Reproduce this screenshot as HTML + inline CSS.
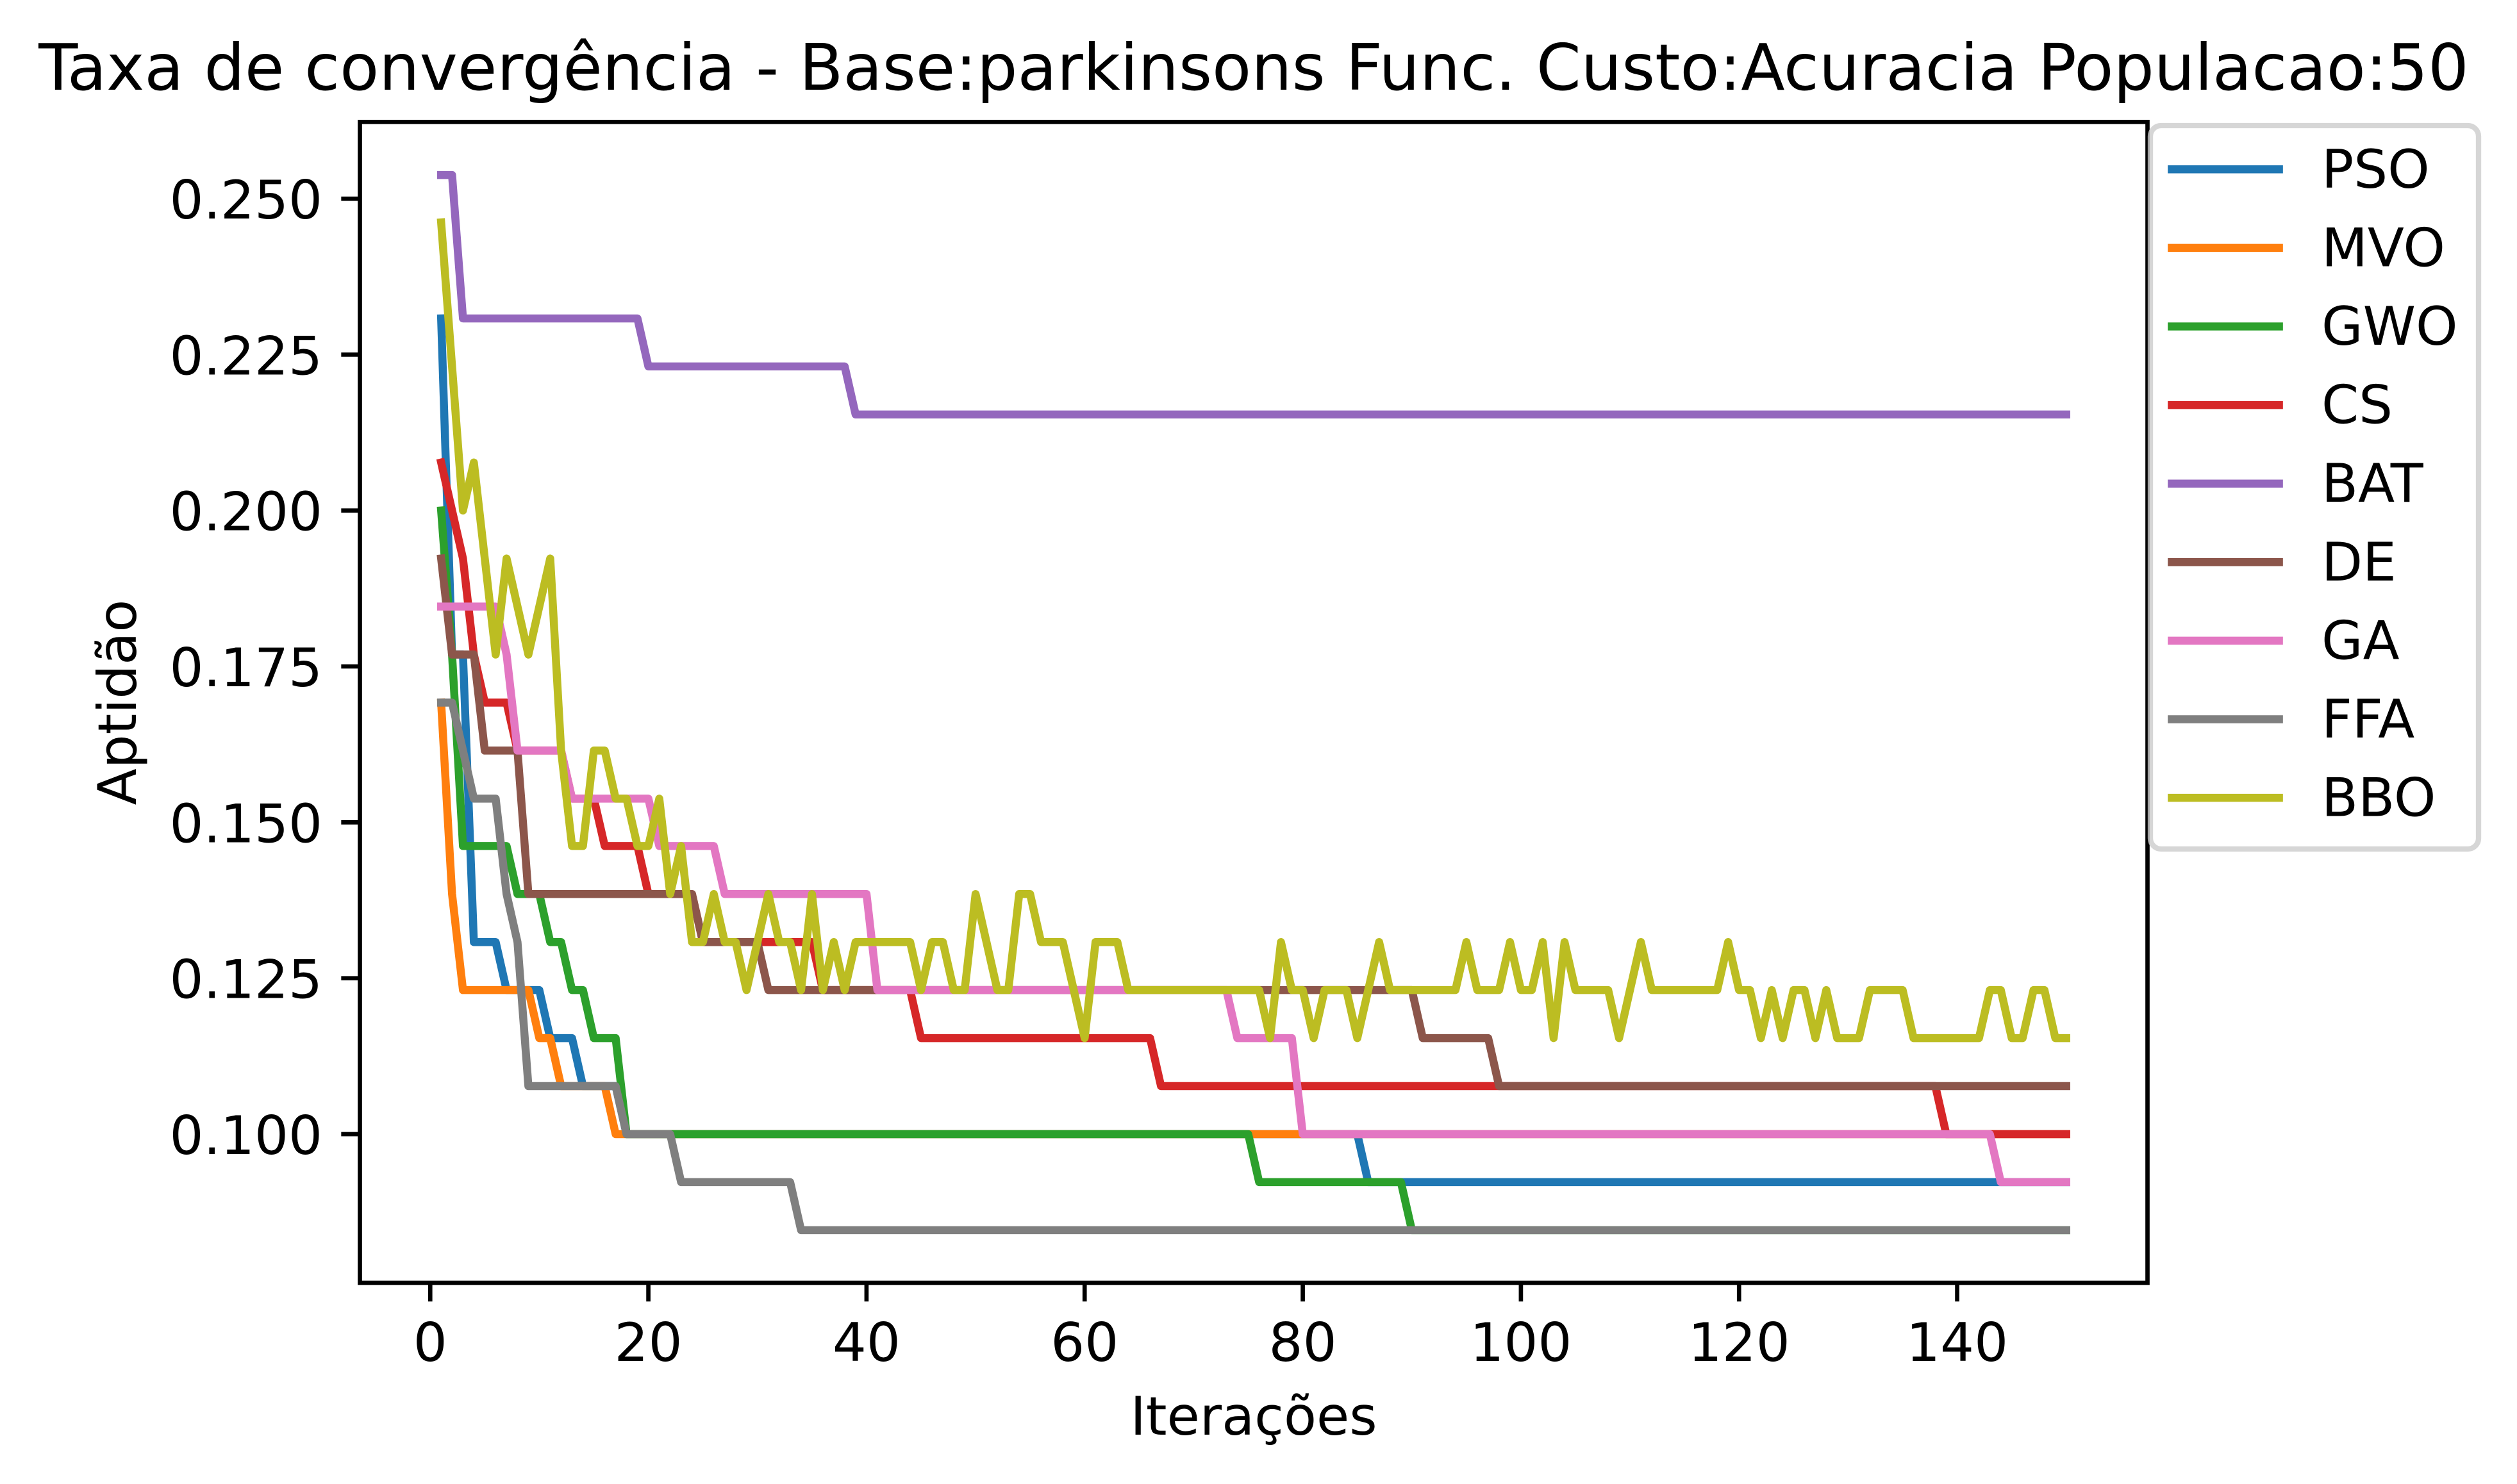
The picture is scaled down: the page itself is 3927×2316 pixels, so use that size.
<!DOCTYPE html>
<html lang="pt">
<head>
<meta charset="utf-8">
<title>Taxa de convergência</title>
<style>
html,body{margin:0;padding:0;background:#fff;}
svg{display:block;}
text{font-family:"DejaVu Sans","Liberation Sans",sans-serif;fill:#000;}
</style>
</head>
<body>
<svg id="chart" xmlns="http://www.w3.org/2000/svg" width="3927" height="2316" viewBox="0 0 3927 2316">
<rect x="0" y="0" width="3927" height="2316" fill="#fff"/>
<text x="1956" y="140" font-size="100" text-anchor="middle">Taxa de convergência - Base:parkinsons Func. Custo:Acuracia Populacao:50</text>
<g id="series-layer"></g>
<rect x="561.5" y="190.3" width="2789" height="1811.7" fill="none" stroke="#000" stroke-width="6.67"/>
<g id="x-axis"></g>
<g id="y-axis"></g>
<text x="1956" y="2239" font-size="83.33" text-anchor="middle">Iterações</text>
<text transform="translate(212 1096) rotate(-90)" font-size="83.33" text-anchor="middle">Aptidão</text>
<g id="legend">
<rect x="3355" y="196" width="512" height="1129" rx="16.7" ry="16.7" fill="#fff" fill-opacity="0.8" stroke="#ccc" stroke-opacity="0.8" stroke-width="8.33"/>
</g>
</svg>
<script>
const seriesNames = ["PSO","MVO","GWO","CS","BAT","DE","GA","FFA","BBO"];
const xTickValues = [0,20,40,60,80,100,120,140];
const xTickLabels = ["0","20","40","60","80","100","120","140"];
const yTickValues = [0.100,0.125,0.150,0.175,0.200,0.225,0.250];
const yTickLabels = ["0.100","0.125","0.150","0.175","0.200","0.225","0.250"];

const PSO = [
0.2308,0.1769,0.1769,0.1308,0.1308,0.1308,0.1231,0.1231,0.1231,0.1231,
0.1154,0.1154,0.1154,0.1077,0.1077,0.1077,0.1077,0.1000,0.1000,0.1000,
0.1000,0.1000,0.1000,0.1000,0.1000,0.1000,0.1000,0.1000,0.1000,0.1000,
0.1000,0.1000,0.1000,0.1000,0.1000,0.1000,0.1000,0.1000,0.1000,0.1000,
0.1000,0.1000,0.1000,0.1000,0.1000,0.1000,0.1000,0.1000,0.1000,0.1000,
0.1000,0.1000,0.1000,0.1000,0.1000,0.1000,0.1000,0.1000,0.1000,0.1000,
0.1000,0.1000,0.1000,0.1000,0.1000,0.1000,0.1000,0.1000,0.1000,0.1000,
0.1000,0.1000,0.1000,0.1000,0.1000,0.1000,0.1000,0.1000,0.1000,0.1000,
0.1000,0.1000,0.1000,0.1000,0.1000,0.0923,0.0923,0.0923,0.0923,0.0923,
0.0923,0.0923,0.0923,0.0923,0.0923,0.0923,0.0923,0.0923,0.0923,0.0923,
0.0923,0.0923,0.0923,0.0923,0.0923,0.0923,0.0923,0.0923,0.0923,0.0923,
0.0923,0.0923,0.0923,0.0923,0.0923,0.0923,0.0923,0.0923,0.0923,0.0923,
0.0923,0.0923,0.0923,0.0923,0.0923,0.0923,0.0923,0.0923,0.0923,0.0923,
0.0923,0.0923,0.0923,0.0923,0.0923,0.0923,0.0923,0.0923,0.0923,0.0923,
0.0923,0.0923,0.0923,0.0923,0.0923,0.0923,0.0923,0.0923,0.0923,0.0923
];
const MVO = [
0.1692,0.1385,0.1231,0.1231,0.1231,0.1231,0.1231,0.1231,0.1231,0.1154,
0.1154,0.1077,0.1077,0.1077,0.1077,0.1077,0.1000,0.1000,0.1000,0.1000,
0.1000,0.1000,0.1000,0.1000,0.1000,0.1000,0.1000,0.1000,0.1000,0.1000,
0.1000,0.1000,0.1000,0.1000,0.1000,0.1000,0.1000,0.1000,0.1000,0.1000,
0.1000,0.1000,0.1000,0.1000,0.1000,0.1000,0.1000,0.1000,0.1000,0.1000,
0.1000,0.1000,0.1000,0.1000,0.1000,0.1000,0.1000,0.1000,0.1000,0.1000,
0.1000,0.1000,0.1000,0.1000,0.1000,0.1000,0.1000,0.1000,0.1000,0.1000,
0.1000,0.1000,0.1000,0.1000,0.1000,0.1000,0.1000,0.1000,0.1000,0.1000,
0.1000,0.1000,0.1000,0.1000,0.1000,0.1000,0.1000,0.1000,0.1000,0.1000,
0.1000,0.1000,0.1000,0.1000,0.1000,0.1000,0.1000,0.1000,0.1000,0.1000,
0.1000,0.1000,0.1000,0.1000,0.1000,0.1000,0.1000,0.1000,0.1000,0.1000,
0.1000,0.1000,0.1000,0.1000,0.1000,0.1000,0.1000,0.1000,0.1000,0.1000,
0.1000,0.1000,0.1000,0.1000,0.1000,0.1000,0.1000,0.1000,0.1000,0.1000,
0.1000,0.1000,0.1000,0.1000,0.1000,0.1000,0.1000,0.1000,0.1000,0.1000,
0.1000,0.1000,0.1000,0.1000,0.1000,0.1000,0.1000,0.1000,0.1000,0.1000
];
const GWO = [
0.2000,0.1769,0.1462,0.1462,0.1462,0.1462,0.1462,0.1385,0.1385,0.1385,
0.1308,0.1308,0.1231,0.1231,0.1154,0.1154,0.1154,0.1000,0.1000,0.1000,
0.1000,0.1000,0.1000,0.1000,0.1000,0.1000,0.1000,0.1000,0.1000,0.1000,
0.1000,0.1000,0.1000,0.1000,0.1000,0.1000,0.1000,0.1000,0.1000,0.1000,
0.1000,0.1000,0.1000,0.1000,0.1000,0.1000,0.1000,0.1000,0.1000,0.1000,
0.1000,0.1000,0.1000,0.1000,0.1000,0.1000,0.1000,0.1000,0.1000,0.1000,
0.1000,0.1000,0.1000,0.1000,0.1000,0.1000,0.1000,0.1000,0.1000,0.1000,
0.1000,0.1000,0.1000,0.1000,0.1000,0.0923,0.0923,0.0923,0.0923,0.0923,
0.0923,0.0923,0.0923,0.0923,0.0923,0.0923,0.0923,0.0923,0.0923,0.0846,
0.0846,0.0846,0.0846,0.0846,0.0846,0.0846,0.0846,0.0846,0.0846,0.0846,
0.0846,0.0846,0.0846,0.0846,0.0846,0.0846,0.0846,0.0846,0.0846,0.0846,
0.0846,0.0846,0.0846,0.0846,0.0846,0.0846,0.0846,0.0846,0.0846,0.0846,
0.0846,0.0846,0.0846,0.0846,0.0846,0.0846,0.0846,0.0846,0.0846,0.0846,
0.0846,0.0846,0.0846,0.0846,0.0846,0.0846,0.0846,0.0846,0.0846,0.0846,
0.0846,0.0846,0.0846,0.0846,0.0846,0.0846,0.0846,0.0846,0.0846,0.0846
];
const CS = [
0.2077,0.2000,0.1923,0.1769,0.1692,0.1692,0.1692,0.1615,0.1615,0.1615,
0.1615,0.1615,0.1538,0.1538,0.1538,0.1462,0.1462,0.1462,0.1462,0.1385,
0.1385,0.1385,0.1385,0.1385,0.1308,0.1308,0.1308,0.1308,0.1308,0.1308,
0.1308,0.1308,0.1308,0.1308,0.1308,0.1231,0.1231,0.1231,0.1231,0.1231,
0.1231,0.1231,0.1231,0.1231,0.1154,0.1154,0.1154,0.1154,0.1154,0.1154,
0.1154,0.1154,0.1154,0.1154,0.1154,0.1154,0.1154,0.1154,0.1154,0.1154,
0.1154,0.1154,0.1154,0.1154,0.1154,0.1154,0.1077,0.1077,0.1077,0.1077,
0.1077,0.1077,0.1077,0.1077,0.1077,0.1077,0.1077,0.1077,0.1077,0.1077,
0.1077,0.1077,0.1077,0.1077,0.1077,0.1077,0.1077,0.1077,0.1077,0.1077,
0.1077,0.1077,0.1077,0.1077,0.1077,0.1077,0.1077,0.1077,0.1077,0.1077,
0.1077,0.1077,0.1077,0.1077,0.1077,0.1077,0.1077,0.1077,0.1077,0.1077,
0.1077,0.1077,0.1077,0.1077,0.1077,0.1077,0.1077,0.1077,0.1077,0.1077,
0.1077,0.1077,0.1077,0.1077,0.1077,0.1077,0.1077,0.1077,0.1077,0.1077,
0.1077,0.1077,0.1077,0.1077,0.1077,0.1077,0.1077,0.1077,0.1000,0.1000,
0.1000,0.1000,0.1000,0.1000,0.1000,0.1000,0.1000,0.1000,0.1000,0.1000
];
const BAT = [
0.2538,0.2538,0.2308,0.2308,0.2308,0.2308,0.2308,0.2308,0.2308,0.2308,
0.2308,0.2308,0.2308,0.2308,0.2308,0.2308,0.2308,0.2308,0.2308,0.2231,
0.2231,0.2231,0.2231,0.2231,0.2231,0.2231,0.2231,0.2231,0.2231,0.2231,
0.2231,0.2231,0.2231,0.2231,0.2231,0.2231,0.2231,0.2231,0.2154,0.2154,
0.2154,0.2154,0.2154,0.2154,0.2154,0.2154,0.2154,0.2154,0.2154,0.2154,
0.2154,0.2154,0.2154,0.2154,0.2154,0.2154,0.2154,0.2154,0.2154,0.2154,
0.2154,0.2154,0.2154,0.2154,0.2154,0.2154,0.2154,0.2154,0.2154,0.2154,
0.2154,0.2154,0.2154,0.2154,0.2154,0.2154,0.2154,0.2154,0.2154,0.2154,
0.2154,0.2154,0.2154,0.2154,0.2154,0.2154,0.2154,0.2154,0.2154,0.2154,
0.2154,0.2154,0.2154,0.2154,0.2154,0.2154,0.2154,0.2154,0.2154,0.2154,
0.2154,0.2154,0.2154,0.2154,0.2154,0.2154,0.2154,0.2154,0.2154,0.2154,
0.2154,0.2154,0.2154,0.2154,0.2154,0.2154,0.2154,0.2154,0.2154,0.2154,
0.2154,0.2154,0.2154,0.2154,0.2154,0.2154,0.2154,0.2154,0.2154,0.2154,
0.2154,0.2154,0.2154,0.2154,0.2154,0.2154,0.2154,0.2154,0.2154,0.2154,
0.2154,0.2154,0.2154,0.2154,0.2154,0.2154,0.2154,0.2154,0.2154,0.2154
];
const DE = [
0.1923,0.1769,0.1769,0.1769,0.1615,0.1615,0.1615,0.1615,0.1385,0.1385,
0.1385,0.1385,0.1385,0.1385,0.1385,0.1385,0.1385,0.1385,0.1385,0.1385,
0.1385,0.1385,0.1385,0.1385,0.1308,0.1308,0.1308,0.1308,0.1308,0.1308,
0.1231,0.1231,0.1231,0.1231,0.1231,0.1231,0.1231,0.1231,0.1231,0.1231,
0.1231,0.1231,0.1231,0.1231,0.1231,0.1231,0.1231,0.1231,0.1231,0.1231,
0.1231,0.1231,0.1231,0.1231,0.1231,0.1231,0.1231,0.1231,0.1231,0.1231,
0.1231,0.1231,0.1231,0.1231,0.1231,0.1231,0.1231,0.1231,0.1231,0.1231,
0.1231,0.1231,0.1231,0.1231,0.1231,0.1231,0.1231,0.1231,0.1231,0.1231,
0.1231,0.1231,0.1231,0.1231,0.1231,0.1231,0.1231,0.1231,0.1231,0.1231,
0.1154,0.1154,0.1154,0.1154,0.1154,0.1154,0.1154,0.1077,0.1077,0.1077,
0.1077,0.1077,0.1077,0.1077,0.1077,0.1077,0.1077,0.1077,0.1077,0.1077,
0.1077,0.1077,0.1077,0.1077,0.1077,0.1077,0.1077,0.1077,0.1077,0.1077,
0.1077,0.1077,0.1077,0.1077,0.1077,0.1077,0.1077,0.1077,0.1077,0.1077,
0.1077,0.1077,0.1077,0.1077,0.1077,0.1077,0.1077,0.1077,0.1077,0.1077,
0.1077,0.1077,0.1077,0.1077,0.1077,0.1077,0.1077,0.1077,0.1077,0.1077
];
const GA = [
0.1846,0.1846,0.1846,0.1846,0.1846,0.1846,0.1769,0.1615,0.1615,0.1615,
0.1615,0.1615,0.1538,0.1538,0.1538,0.1538,0.1538,0.1538,0.1538,0.1538,
0.1462,0.1462,0.1462,0.1462,0.1462,0.1462,0.1385,0.1385,0.1385,0.1385,
0.1385,0.1385,0.1385,0.1385,0.1385,0.1385,0.1385,0.1385,0.1385,0.1385,
0.1231,0.1231,0.1231,0.1231,0.1231,0.1231,0.1231,0.1231,0.1231,0.1231,
0.1231,0.1231,0.1231,0.1231,0.1231,0.1231,0.1231,0.1231,0.1231,0.1231,
0.1231,0.1231,0.1231,0.1231,0.1231,0.1231,0.1231,0.1231,0.1231,0.1231,
0.1231,0.1231,0.1231,0.1154,0.1154,0.1154,0.1154,0.1154,0.1154,0.1000,
0.1000,0.1000,0.1000,0.1000,0.1000,0.1000,0.1000,0.1000,0.1000,0.1000,
0.1000,0.1000,0.1000,0.1000,0.1000,0.1000,0.1000,0.1000,0.1000,0.1000,
0.1000,0.1000,0.1000,0.1000,0.1000,0.1000,0.1000,0.1000,0.1000,0.1000,
0.1000,0.1000,0.1000,0.1000,0.1000,0.1000,0.1000,0.1000,0.1000,0.1000,
0.1000,0.1000,0.1000,0.1000,0.1000,0.1000,0.1000,0.1000,0.1000,0.1000,
0.1000,0.1000,0.1000,0.1000,0.1000,0.1000,0.1000,0.1000,0.1000,0.1000,
0.1000,0.1000,0.1000,0.0923,0.0923,0.0923,0.0923,0.0923,0.0923,0.0923
];
const FFA = [
0.1692,0.1692,0.1615,0.1538,0.1538,0.1538,0.1385,0.1308,0.1077,0.1077,
0.1077,0.1077,0.1077,0.1077,0.1077,0.1077,0.1077,0.1000,0.1000,0.1000,
0.1000,0.1000,0.0923,0.0923,0.0923,0.0923,0.0923,0.0923,0.0923,0.0923,
0.0923,0.0923,0.0923,0.0846,0.0846,0.0846,0.0846,0.0846,0.0846,0.0846,
0.0846,0.0846,0.0846,0.0846,0.0846,0.0846,0.0846,0.0846,0.0846,0.0846,
0.0846,0.0846,0.0846,0.0846,0.0846,0.0846,0.0846,0.0846,0.0846,0.0846,
0.0846,0.0846,0.0846,0.0846,0.0846,0.0846,0.0846,0.0846,0.0846,0.0846,
0.0846,0.0846,0.0846,0.0846,0.0846,0.0846,0.0846,0.0846,0.0846,0.0846,
0.0846,0.0846,0.0846,0.0846,0.0846,0.0846,0.0846,0.0846,0.0846,0.0846,
0.0846,0.0846,0.0846,0.0846,0.0846,0.0846,0.0846,0.0846,0.0846,0.0846,
0.0846,0.0846,0.0846,0.0846,0.0846,0.0846,0.0846,0.0846,0.0846,0.0846,
0.0846,0.0846,0.0846,0.0846,0.0846,0.0846,0.0846,0.0846,0.0846,0.0846,
0.0846,0.0846,0.0846,0.0846,0.0846,0.0846,0.0846,0.0846,0.0846,0.0846,
0.0846,0.0846,0.0846,0.0846,0.0846,0.0846,0.0846,0.0846,0.0846,0.0846,
0.0846,0.0846,0.0846,0.0846,0.0846,0.0846,0.0846,0.0846,0.0846,0.0846
];
const BBO = [
0.2462,0.2231,0.2000,0.2077,0.1923,0.1769,0.1923,0.1846,0.1769,0.1846,
0.1923,0.1615,0.1462,0.1462,0.1615,0.1615,0.1538,0.1538,0.1462,0.1462,
0.1538,0.1385,0.1462,0.1308,0.1308,0.1385,0.1308,0.1308,0.1231,0.1308,
0.1385,0.1308,0.1308,0.1231,0.1385,0.1231,0.1308,0.1231,0.1308,0.1308,
0.1308,0.1308,0.1308,0.1308,0.1231,0.1308,0.1308,0.1231,0.1231,0.1385,
0.1308,0.1231,0.1231,0.1385,0.1385,0.1308,0.1308,0.1308,0.1231,0.1154,
0.1308,0.1308,0.1308,0.1231,0.1231,0.1231,0.1231,0.1231,0.1231,0.1231,
0.1231,0.1231,0.1231,0.1231,0.1231,0.1231,0.1154,0.1308,0.1231,0.1231,
0.1154,0.1231,0.1231,0.1231,0.1154,0.1231,0.1308,0.1231,0.1231,0.1231,
0.1231,0.1231,0.1231,0.1231,0.1308,0.1231,0.1231,0.1231,0.1308,0.1231,
0.1231,0.1308,0.1154,0.1308,0.1231,0.1231,0.1231,0.1231,0.1154,0.1231,
0.1308,0.1231,0.1231,0.1231,0.1231,0.1231,0.1231,0.1231,0.1308,0.1231,
0.1231,0.1154,0.1231,0.1154,0.1231,0.1231,0.1154,0.1231,0.1154,0.1154,
0.1154,0.1231,0.1231,0.1231,0.1231,0.1154,0.1154,0.1154,0.1154,0.1154,
0.1154,0.1154,0.1231,0.1231,0.1154,0.1154,0.1231,0.1231,0.1154,0.1154
];

const seriesValues = [PSO,MVO,GWO,CS,BAT,DE,GA,FFA,BBO];
const seriesColors = ["#1f77b4","#ff7f0e","#2ca02c","#d62728","#9467bd","#8c564b","#e377c2","#7f7f7f","#bcbd22"];

const SVG_NS = "http://www.w3.org/2000/svg";
const plot = {left:561.5, right:3350.5, top:190.3, bottom:2002};
const xDomain = [-6.45, 157.45];
const yDomain = [0.07616, 0.26231];
function xScale(v){ return plot.left + (v - xDomain[0]) / (xDomain[1] - xDomain[0]) * (plot.right - plot.left); }
function yScale(v){ return plot.bottom - (v - yDomain[0]) / (yDomain[1] - yDomain[0]) * (plot.bottom - plot.top); }
function make(tag, attrs, parent){
  const el = document.createElementNS(SVG_NS, tag);
  for (const k in attrs) el.setAttribute(k, attrs[k]);
  parent.appendChild(el);
  return el;
}

const seriesLayer = document.getElementById("series-layer");
seriesValues.forEach(function(values, s){
  const pts = values.map(function(v, i){ return xScale(i + 1).toFixed(2) + "," + yScale(v).toFixed(2); });
  const line = make("polyline", {points: pts.join(" "), fill: "none", stroke: seriesColors[s], "stroke-width": 12.5, "stroke-linecap": "square", "stroke-linejoin": "round"}, seriesLayer);
  
  
});

const xAxis = document.getElementById("x-axis");
xTickValues.forEach(function(v, i){
  const x = xScale(v);
  const tick = make("line", {x1: x, x2: x, y1: plot.bottom, y2: plot.bottom + 29.17, stroke: "#000", "stroke-width": 6.67}, xAxis);
  
  
  const label = make("text", {x: x, y: 2124, "font-size": 83.33, "text-anchor": "middle"}, xAxis);
  label.textContent = xTickLabels[i];
  
  
});

const yAxis = document.getElementById("y-axis");
yTickValues.forEach(function(v, i){
  const y = yScale(v);
  const tick = make("line", {x1: plot.left - 29.17, x2: plot.left, y1: y, y2: y, stroke: "#000", "stroke-width": 6.67}, yAxis);
  
  
  const label = make("text", {x: 503, y: y + 31, "font-size": 83.33, "text-anchor": "end"}, yAxis);
  label.textContent = yTickLabels[i];
  
  
});

const legend = document.getElementById("legend");
seriesNames.forEach(function(name, s){
  const entry = make("g", {}, legend);
  
  
  const rowY = 264.3 + 122.6 * s;
  const handle = make("line", {x1: 3388.4, x2: 3555.6, y1: rowY, y2: rowY, stroke: seriesColors[s], "stroke-width": 12.5, "stroke-linecap": "square"}, entry);
  
  
  const label = make("text", {x: 3622, y: rowY + 28.5, "font-size": 83.33}, entry);
  label.textContent = name;
  
  
});
</script>
</body>
</html>
